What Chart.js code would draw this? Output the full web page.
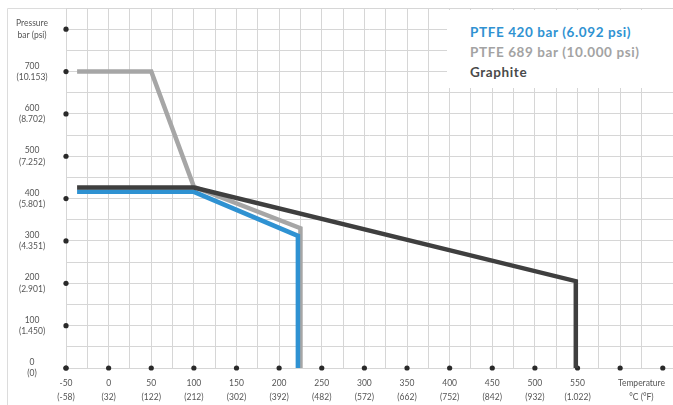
<!DOCTYPE html>
<html>
<head>
<meta charset="utf-8">
<script src="https://cdn.jsdelivr.net/npm/chart.js@4/dist/chart.umd.min.js"></script>
<style>
  html, body { margin: 0; padding: 0; background: #fff; }
  #wrap { position: relative; width: 673px; height: 405px; }
  #legend { position: absolute; left: 447px; top: 10px; width: 226px; height: 78px; background: #fff;
            font-family: Lato, 'Open Sans', sans-serif; font-weight: bold; font-size: 13.5px; letter-spacing: 0.6px; }
  #legend div { position: absolute; left: 23px; white-space: nowrap; line-height: 16px; }
</style>
</head>
<body>
<div id="wrap">
  <canvas id="c" width="673" height="405"></canvas>
  <div id="legend"></div>
</div>
<script>
// Axis tick labels
const tempC = [-50, 0, 50, 100, 150, 200, 250, 300, 350, 400, 450, 500, 550];
const tempF = ['(-58)', '(32)', '(122)', '(212)', '(302)', '(392)', '(482)', '(572)', '(662)', '(752)', '(842)', '(932)', '(1.022)'];
const pressBar = [0, 100, 200, 300, 400, 500, 600, 700];
const pressPsi = ['(0)', '(1.450)', '(2.901)', '(4.351)', '(5.801)', '(7.252)', '(8.702)', '(10.153)'];
const yTitle = ['Pressure', 'bar (psi)'];
const xTitle = ['Temperature', '°C (°F)'];

// Series
const seriesNames = ['PTFE 420 bar (6.092 psi)', 'PTFE 689 bar (10.000 psi)', 'Graphite'];
const ptfe420T = [-37, 100, 222, 222];
const ptfe420P = [416, 416, 312, 0];
const ptfe689T = [-37, 50, 100, 225, 225];
const ptfe689P = [700, 700, 428, 330, 0];
const graphiteT = [-37, 100, 548, 548];
const graphiteP = [426, 426, 205, 0];

const colBlue = '#2f92d2', colGray = '#a6a6a6', colDark = '#3f3f3f';

function pts(xs, ys) { return xs.map((x, i) => ({ x: x, y: ys[i] })); }

const ds = [
  { label: seriesNames[1], data: pts(ptfe689T, ptfe689P), borderColor: colGray, order: 3 },
  { label: seriesNames[0], data: pts(ptfe420T, ptfe420P), borderColor: colBlue, order: 2 },
  { label: seriesNames[2], data: pts(graphiteT, graphiteP), borderColor: colDark, order: 1 }
].map(d => Object.assign(d, { borderWidth: 4.5, pointRadius: 0, tension: 0, fill: false,
  borderJoinStyle: 'miter', borderCapStyle: 'butt', showLine: true }));

// legend (HTML)
const lg = document.getElementById('legend');
[[seriesNames[0], colBlue], [seriesNames[1], '#a3a3a3'], [seriesNames[2], '#4a4a4a']].forEach((it, i) => {
  const d = document.createElement('div');
  d.textContent = it[0]; d.style.color = it[1]; d.style.top = (14 + i * 20) + 'px';
  lg.appendChild(d);
});

const decor = {
  id: 'decor',
  beforeDraw(chart) {
    const c = chart.ctx;
    c.save();
    c.strokeStyle = '#dcdcdc'; c.lineWidth = 1;
    c.beginPath(); c.moveTo(7.5, 405); c.lineTo(7.5, 8.5); c.lineTo(673, 8.5); c.stroke();
    c.restore();
  },
  beforeDatasetsDraw(chart) {
    const c = chart.ctx, xs = chart.scales.x, ys = chart.scales.y;
    c.save(); c.fillStyle = '#2a2a2a';
    const yb = ys.getPixelForValue(0), xl = xs.getPixelForValue(-50);
    for (let v = -50; v <= 650; v += 50) {
      c.beginPath(); c.arc(xs.getPixelForValue(v), yb, 2.6, 0, Math.PI * 2); c.fill();
    }
    for (let v = 0; v <= 800; v += 100) {
      c.beginPath(); c.arc(xl, ys.getPixelForValue(v), 2.6, 0, Math.PI * 2); c.fill();
    }
    c.restore();
  }
};

function noPad(s) { s.paddingTop = 0; s.paddingBottom = 0; s.paddingLeft = 0; s.paddingRight = 0; }

new Chart(document.getElementById('c'), {
  type: 'line',
  data: { datasets: ds },
  plugins: [decor],
  options: {
    responsive: false, animation: false, devicePixelRatio: 1,
    layout: { padding: { top: 8, right: 0, left: 0, bottom: 0 } },
    plugins: { legend: { display: false }, tooltip: { enabled: false } },
    scales: {
      x: {
        type: 'linear', min: -50, max: 662,
        afterBuildTicks(s) { s.ticks = s.ticks.filter(t => t.value % 25 === 0); },
        afterFit(s) { s.height = 37; noPad(s); },
        border: { display: false },
        grid: { color: '#d6d6d6', lineWidth: 1, drawTicks: false },
        ticks: {
          stepSize: 25, autoSkip: false, maxRotation: 0, padding: 8,
          color: '#555', font: { family: 'Lato', size: 8.5, lineHeight: 1.7 },
          callback(v) {
            const i = tempC.indexOf(v);
            if (i >= 0) return [String(tempC[i]), tempF[i]];
            if (v === 625) return xTitle;
            return '';
          }
        }
      },
      y: {
        type: 'linear', min: 0, max: 850,
        afterBuildTicks(s) { s.ticks = s.ticks.filter(t => t.value % 50 === 0); },
        afterFit(s) { s.width = 66; noPad(s); },
        border: { display: false },
        grid: { color: '#d6d6d6', lineWidth: 1, drawTicks: false },
        ticks: {
          stepSize: 50, autoSkip: false, padding: 18, crossAlign: 'center',
          color: '#555', font: { family: 'Lato', size: 8.5, lineHeight: 1.35 },
          callback(v) {
            const i = pressBar.indexOf(v);
            if (i >= 0) return [String(pressBar[i]), pressPsi[i]];
            if (v === 800) return yTitle;
            return '';
          }
        }
      }
    }
  }
});
</script>
</body>
</html>
